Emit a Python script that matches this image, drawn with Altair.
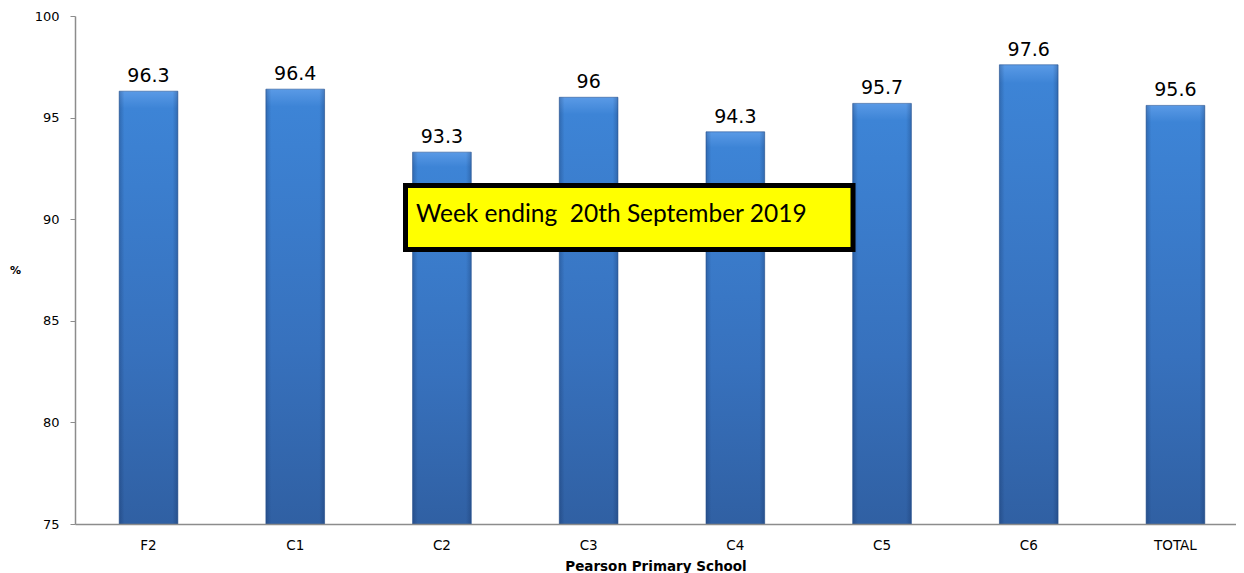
import altair as alt
import pandas as pd

categories = ["F2", "C1", "C2", "C3", "C4", "C5", "C6", "TOTAL"]
values = [96.3, 96.4, 93.3, 96.0, 94.3, 95.7, 97.6, 95.6]
value_labels = ["96.3", "96.4", "93.3", "96", "94.3", "95.7", "97.6", "95.6"]
y_ticks = [75, 80, 85, 90, 95, 100]
note = "Week ending\u00a0 20th September 2019"
x_title = "Pearson Primary School"
y_title = "%"
y_min = 75

df = pd.DataFrame({"cat": categories, "val": values, "lab": value_labels})
note_df = pd.DataFrame({"txt": [note]})

x_scale = alt.Scale(paddingInner=0.6, paddingOuter=0.257, align=0.586)
y_scale = alt.Scale(domain=[75, 100], zero=False, nice=False)

x_enc = alt.X(
    "cat:N",
    sort=categories,
    scale=x_scale,
    axis=alt.Axis(
        title=x_title,
        titleFont="DejaVu Sans",
        titleFontSize=13.5,
        titleFontWeight="bold",
        titleColor="#000000",
        titlePadding=8,
        labelFont="DejaVu Sans",
        labelFontSize=13.5,
        labelColor="#000000",
        labelPadding=14,
        labelAngle=0,
        ticks=False,
        domainColor="#8c8c8c",
        domainWidth=1.5,
        grid=False,
        zindex=1,
    ),
)
y_enc = alt.Y(
    "val:Q",
    scale=y_scale,
    axis=alt.Axis(
        values=y_ticks,
        title=y_title,
        titleAngle=0,
        titleFont="DejaVu Sans",
        titleFontSize=11,
        titleFontWeight="bold",
        titleColor="#000000",
        titleX=-60,
        titleY=254,
        titleAlign="center",
        titleBaseline="middle",
        labelFont="DejaVu Sans",
        labelFontSize=13,
        labelColor="#000000",
        labelPadding=11,
        tickSize=5,
        tickColor="#8c8c8c",
        domainColor="#8c8c8c",
        domainWidth=1.5,
        grid=False,
        zindex=1,
    ),
)

bars = alt.Chart(df).mark_bar(
    color=alt.Gradient(
        gradient="linear",
        stops=[
            alt.GradientStop(color="#5a9ae6", offset=0),
            alt.GradientStop(color="#3d84d6", offset=0.04),
            alt.GradientStop(color="#3771bd", offset=0.6),
            alt.GradientStop(color="#3060a3", offset=1),
        ],
        x1=0, x2=0, y1=0, y2=1,
    ),
    stroke="#2c5796",
    strokeWidth=0.6,
).encode(x=x_enc, y=y_enc, y2=alt.Y2(datum=y_min))

edges = alt.Chart(df).mark_bar(
    color=alt.Gradient(
        gradient="linear",
        stops=[
            alt.GradientStop(color="rgba(10,30,70,0.25)", offset=0),
            alt.GradientStop(color="rgba(10,30,70,0)", offset=0.09),
            alt.GradientStop(color="rgba(10,30,70,0)", offset=0.91),
            alt.GradientStop(color="rgba(10,30,70,0.25)", offset=1),
        ],
        x1=0, x2=1, y1=0, y2=0,
    ),
).encode(
    x=alt.X("cat:N", sort=categories, scale=x_scale),
    y=alt.Y("val:Q", scale=y_scale),
    y2=alt.Y2(datum=y_min),
)

labels = alt.Chart(df).mark_text(
    font="DejaVu Sans", fontSize=19, color="#000000", baseline="alphabetic", dy=-9
).encode(x=alt.X("cat:N", sort=categories), y="val:Q", text="lab:N")

box = alt.Chart(note_df).mark_rect(
    fill="#ffff00", stroke="#000000", strokeWidth=5
).encode(
    x=alt.value(330.5), x2=alt.value(778), y=alt.value(169.5), y2=alt.value(233.5)
)

box_text = alt.Chart(note_df).mark_text(
    font="Lato", fontSize=24.5, color="#000000", align="left", baseline="alphabetic"
).encode(x=alt.value(341), y=alt.value(205.5), text="txt:N")

chart = (
    alt.layer(bars, edges, labels, box, box_text)
    .properties(
        width=1161,
        height=508,
        background="#ffffff",
        autosize=alt.AutoSizeParams(type="none"),
        padding={"left": 67, "top": 8, "right": 0, "bottom": 49},
    )
    .configure_view(strokeWidth=0, stroke="transparent")
)

chart.save("out.html", embed_options={"renderer": "svg", "actions": False})
